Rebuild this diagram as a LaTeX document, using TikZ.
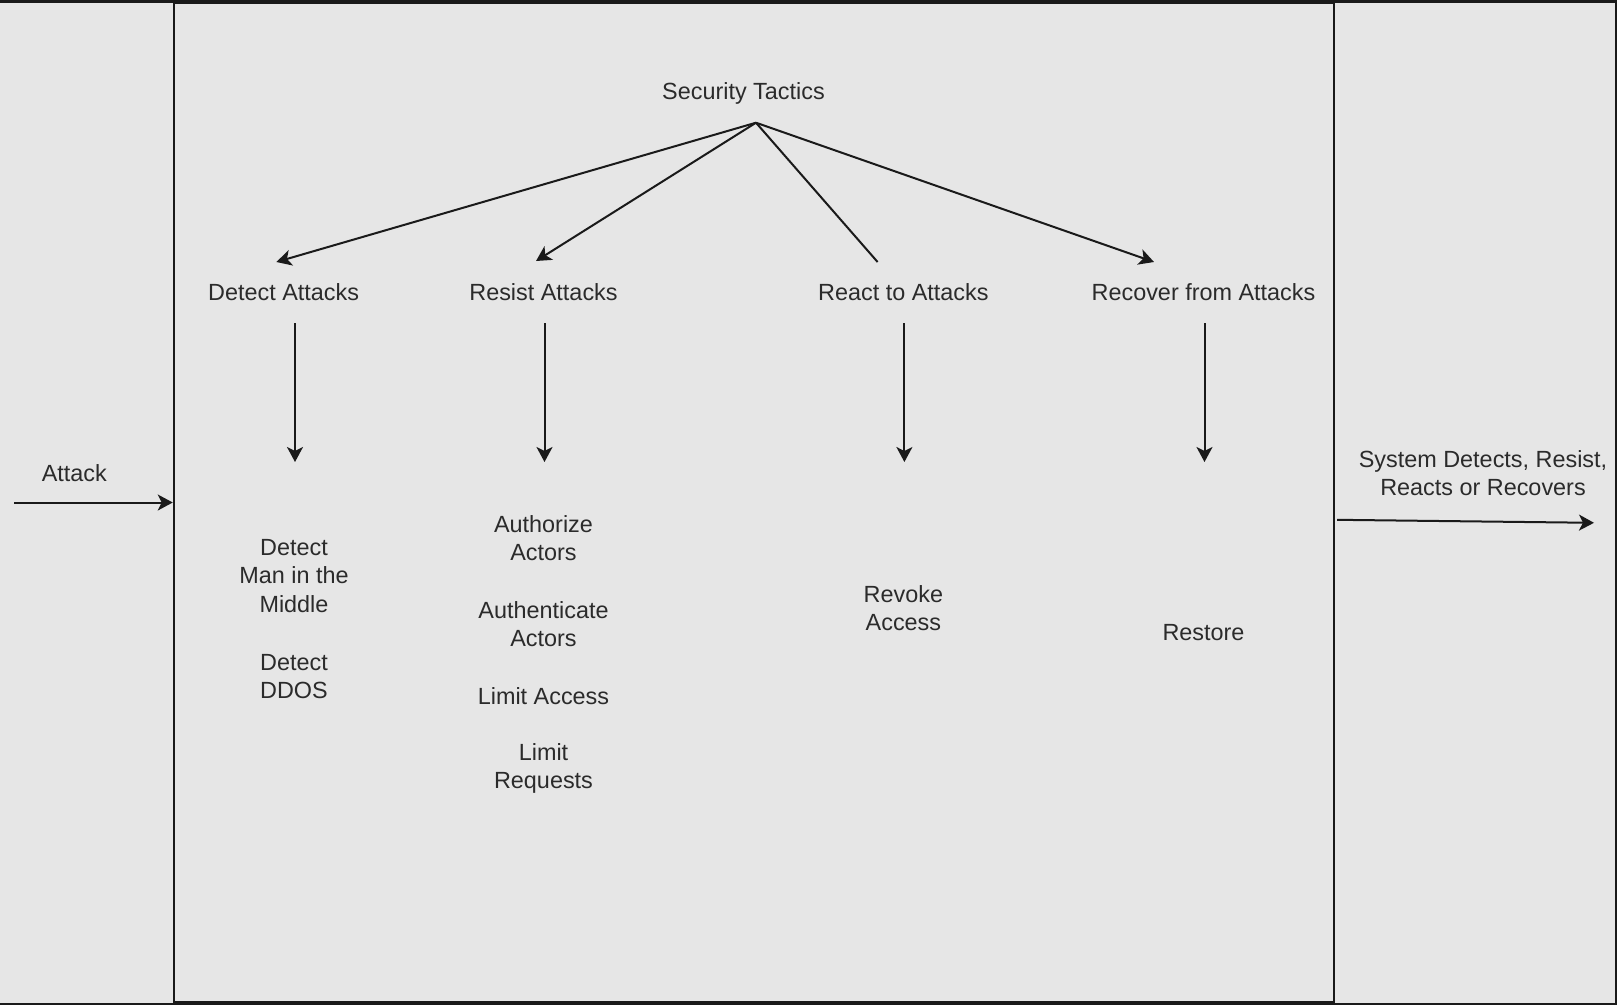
\documentclass[tikz,border=0pt]{standalone}
\usepackage{fontspec}
\setmainfont{Liberation Sans}
\usetikzlibrary{arrows.meta}
\definecolor{bg}{HTML}{E6E6E6}
\definecolor{txt}{HTML}{2B2B2B}
\definecolor{ln}{HTML}{1A1A1A}
\begin{document}
\begin{tikzpicture}[x=1pt,y=-1pt,
  lbl/.style={text=txt, align=center, font=\fontsize{23.4}{28.2}\selectfont, inner sep=0pt},
  conn/.style={draw=ln, line width=2pt},
  arr/.style={conn, -{Stealth[length=15pt,width=16pt,inset=4pt]}}]
% background and frame
\fill[bg] (0,0) rectangle (1617,1005);
\useasboundingbox (0,0) rectangle (1617,1005);
\draw[ln, line width=2.5pt] (0,1.25) -- (1615.75,1.25) -- (1615.75,1003.75) -- (0,1003.75);
% system box
\node[draw=ln, line width=2.5pt, minimum width=1160pt, minimum height=999pt, inner sep=0pt] (sys) at (754,502.5) {};
% title and tree
\node[lbl] (st) at (743.5,93.8) {Security Tactics};
\coordinate (apex) at (756,122.7);
\node[lbl] (da) at (283.6,292.3) {Detect Attacks};
\node[lbl] (ra) at (543.5,292.3) {Resist Attacks};
\node[lbl] (rc) at (903.4,292.3) {React to Attacks};
\node[lbl] (rv) at (1203.5,292.3) {Recover from Attacks};
\coordinate (daT) at (276.4,262);
\coordinate (raT) at (536,261);
\coordinate (rcT) at (877.6,262);
\coordinate (rvT) at (1154,262);
\draw[arr] (apex) -- (daT);
\draw[arr] (apex) -- (raT);
\draw[conn] (apex) -- (rcT);
\draw[arr] (apex) -- (rvT);
% vertical arrows
\coordinate (da1) at (295,323); \coordinate (da2) at (295,462);
\coordinate (ra1) at (544.5,323); \coordinate (ra2) at (544.5,462);
\coordinate (rc1) at (904.4,323); \coordinate (rc2) at (904.4,462);
\coordinate (rv1) at (1204.5,323); \coordinate (rv2) at (1204.5,462);
\draw[arr] (da1) -- (da2);
\draw[arr] (ra1) -- (ra2);
\draw[arr] (rc1) -- (rc2);
\draw[arr] (rv1) -- (rv2);
% tactic items
\node[lbl] (dm) at (294,575.9) {Detect\\Man in the\\Middle};
\node[lbl] (dd) at (294,676.5) {Detect\\DDOS};
\node[lbl] (au) at (543.5,538.3) {Authorize\\Actors};
\node[lbl] (an) at (543.5,623.9) {Authenticate\\Actors};
\node[lbl] (la) at (543.5,696.5) {Limit Access};
\node[lbl] (lr) at (543.5,768.2) {Limit\\Requests};
\node[lbl] (ro) at (903.4,608.4) {Revoke\\Access};
\node[lbl] (rs) at (1203.5,632.5) {Restore};
% input and output
\node[lbl] (atk) at (74.3,472.8) {Attack};
\coordinate (ain) at (14.4,502.5);
\draw[arr] (ain) -- (sys.west);
\node[lbl] (out) at (1483,473.3) {System Detects, Resist,\\Reacts or Recovers};
\coordinate (os) at (1337,519.8);
\coordinate (oe) at (1594,522.8);
\draw[arr] (os) -- (oe);
\end{tikzpicture}
\end{document}
